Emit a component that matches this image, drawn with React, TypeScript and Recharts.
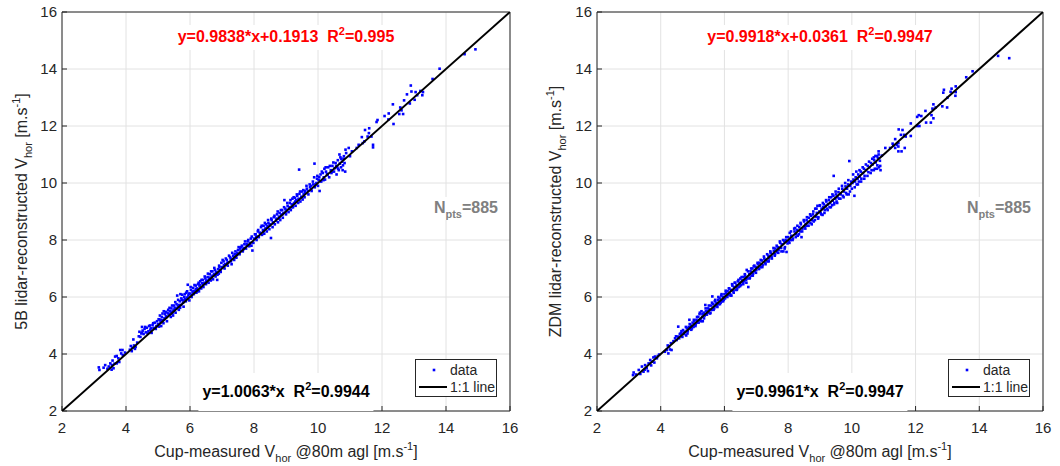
import React from "react";
import { ScatterChart, Scatter, XAxis, YAxis, CartesianGrid, Label } from "recharts";

const FONT = "'Liberation Sans', Arial, Helvetica, sans-serif";
const PANEL_W = 530;
const PANEL_H = 466;
const PLOT_TOP = 12;
const PLOT_BOTTOM = 411;

const axisTicks = [2, 4, 6, 8, 10, 12, 14, 16];
const oneToOne = [
  { x: 2, y: 2 },
  { x: 16, y: 16 },
];

// cup speed vs 5-beam lidar speed
const points5B: [number, number][] = [
  [3.15, 3.53], [3.17, 3.44], [3.3, 3.52], [3.35, 3.61], [3.42, 3.48], [3.46, 3.56], [3.51, 3.67], [3.55, 3.45],
  [3.56, 3.61], [3.58, 3.77], [3.61, 3.5], [3.64, 3.66], [3.66, 3.91], [3.71, 3.93], [3.71, 3.67], [3.76, 3.85],
  [3.79, 3.72], [3.82, 4.14], [3.85, 4.02], [3.89, 4.14], [3.9, 3.96], [3.97, 4.05],
  [4.12, 4.15], [4.15, 4.28], [4.18, 4.1], [4.2, 4.22], [4.23, 4.51], [4.25, 4.3], [4.28, 4.18], [4.3, 4.25],
  [4.35, 4.4], [4.4, 4.62], [4.42, 4.78], [4.48, 4.72], [4.5, 4.95], [4.52, 4.82], [4.55, 4.7], [4.58, 4.88],
  [4.62, 4.76], [4.65, 4.92], [4.7, 4.8], [4.72, 4.98], [4.76, 4.85], [4.8, 4.74], [4.83, 5.02], [4.86, 4.92],
  [4.9, 5.1], [4.93, 4.88], [4.97, 5.15], [5.0, 5.05], [5.03, 4.96], [5.05, 5.2], [5.08, 5.12], [5.1, 4.98],
  [5.12, 5.3], [5.15, 5.18], [5.18, 5.5], [5.2, 5.25], [5.22, 5.4], [5.25, 5.32], [5.28, 5.15], [5.3, 5.45],
  [5.32, 5.55], [5.35, 5.38], [5.38, 5.5], [5.4, 5.3], [5.42, 5.6], [5.45, 5.42], [5.48, 5.52], [5.5, 5.7],
  [5.52, 5.62], [5.55, 5.45], [5.58, 5.75], [5.6, 6.05], [5.62, 5.68], [5.65, 5.55], [5.68, 5.85], [5.7, 6.1],
  [5.72, 5.72], [5.75, 5.9], [5.78, 5.8], [5.8, 5.66], [5.82, 6.0], [5.85, 5.92], [5.88, 6.15], [5.9, 5.98],
  [5.93, 6.43], [5.95, 6.05], [5.98, 5.88], [6.0, 6.12], [6.03, 6.25], [6.05, 6.0], [6.08, 6.18], [6.1, 6.32],
  [6.12, 6.1], [6.15, 6.22], [6.18, 6.4], [6.2, 6.15], [6.22, 6.3], [6.25, 6.45], [6.28, 6.2], [6.3, 6.38],
  [6.32, 6.55], [6.35, 6.3], [6.38, 6.48], [6.4, 6.6], [6.42, 6.35], [6.45, 6.5], [6.48, 6.65], [6.5, 6.45],
  [6.52, 6.58], [6.55, 6.7], [6.58, 6.5], [6.6, 6.62], [6.62, 6.8], [6.65, 6.58], [6.68, 6.72], [6.7, 6.9],
  [6.72, 6.62], [6.75, 6.8], [6.78, 6.95], [6.8, 6.72], [6.82, 6.88], [6.85, 6.6], [6.88, 6.98], [6.9, 6.82],
  [6.92, 7.05], [6.95, 6.95], [6.98, 7.2], [7.0, 7.05], [7.05, 7.25], [7.08, 7.0], [7.1, 7.15], [7.15, 7.3],
  [7.18, 7.1], [7.2, 7.22], [7.25, 7.4], [7.28, 7.25], [7.3, 7.15], [7.35, 7.45], [7.38, 7.3], [7.4, 7.5],
  [7.45, 7.38], [7.48, 7.55], [7.5, 7.65], [7.55, 7.5], [7.58, 7.62], [7.6, 7.75], [7.65, 7.6], [7.68, 7.72],
  [7.7, 7.85], [7.75, 7.7], [7.78, 7.8], [7.8, 7.95], [7.85, 7.78], [7.88, 7.9], [7.9, 8.05], [7.92, 7.8],
  [7.95, 7.63], [7.98, 7.9], [8.0, 8.05], [8.05, 8.2], [8.08, 8.0], [8.1, 8.12], [8.12, 8.3], [8.15, 8.1],
  [8.2, 8.25], [8.22, 8.45], [8.25, 8.18], [8.28, 8.35], [8.3, 8.5], [8.32, 8.22], [8.35, 8.4], [8.38, 8.55],
  [8.4, 8.3], [8.42, 8.48], [8.45, 8.6], [8.48, 8.38], [8.5, 8.52], [8.53, 8.07], [8.55, 8.7], [8.58, 8.45],
  [8.6, 8.62], [8.62, 8.8], [8.65, 8.55], [8.7, 8.75], [8.72, 8.9], [8.75, 8.62], [8.78, 8.82], [8.8, 8.95],
  [8.82, 8.7], [8.85, 8.88], [8.88, 9.05], [8.9, 8.78], [8.92, 8.95], [8.95, 9.4], [8.98, 9.1], [9.0, 8.9],
  [9.02, 9.05], [9.05, 9.2], [9.08, 8.98], [9.1, 9.15], [9.12, 9.3], [9.15, 9.05], [9.18, 9.25], [9.2, 9.45],
  [9.22, 9.15], [9.25, 9.3], [9.28, 9.48], [9.3, 9.2], [9.32, 9.4], [9.35, 9.55], [9.38, 9.3], [9.4, 9.45],
  [9.41, 10.47], [9.42, 9.62], [9.45, 9.35], [9.48, 9.52], [9.5, 9.7], [9.52, 9.42], [9.55, 9.6], [9.58, 9.5],
  [9.6, 9.72], [9.65, 9.8], [9.7, 9.6], [9.75, 9.85], [9.78, 9.9], [9.8, 9.72], [9.85, 9.95], [9.88, 10.2],
  [9.89, 10.68], [9.9, 9.85], [9.95, 10.0], [9.98, 10.25], [10.0, 9.9], [10.02, 10.1], [10.05, 9.72], [10.08, 10.3],
  [10.1, 10.05], [10.15, 10.35], [10.18, 10.2], [10.2, 10.5], [10.22, 10.12], [10.25, 10.4], [10.3, 10.28], [10.32, 10.55],
  [10.35, 10.2], [10.4, 10.45], [10.42, 10.35], [10.45, 10.6], [10.5, 10.4], [10.52, 10.52], [10.55, 10.7], [10.58, 10.3],
  [10.6, 10.55], [10.62, 10.8], [10.65, 10.45], [10.68, 10.68], [10.7, 10.9], [10.72, 10.55], [10.75, 10.75], [10.78, 10.62],
  [10.8, 10.85], [10.85, 10.4], [10.88, 11.05], [10.86, 11.17], [10.96, 11.23], [11.0, 10.94], [10.81, 10.94], [10.67, 11.0],
  [11.06, 11.11], [11.21, 11.23], [11.27, 11.34], [11.37, 11.61], [11.4, 11.4], [11.45, 11.46], [11.47, 11.86], [11.55, 11.63],
  [11.59, 11.75], [11.6, 11.92], [11.67, 11.63], [11.72, 11.34], [11.72, 11.25], [11.83, 12.14], [11.86, 12.21], [12.08, 12.35],
  [12.2, 12.23], [12.21, 12.44], [12.34, 12.76], [12.36, 12.07], [12.54, 12.42], [12.57, 12.65], [12.61, 12.55], [12.66, 12.42],
  [12.69, 12.9], [12.78, 13.11], [12.87, 12.79], [12.9, 13.42], [12.92, 13.21], [13.02, 12.92], [13.05, 13.19], [13.1, 13.08],
  [13.2, 13.23], [13.26, 13.08], [13.28, 13.19], [13.58, 13.65], [13.8, 14.01], [14.58, 14.52], [14.92, 14.69],
  [4.45, 4.6], [4.5, 4.75], [4.6, 4.95], [4.68, 4.72], [4.75, 5.0], [4.78, 4.9], [4.85, 5.08], [4.95, 4.98],
  [5.02, 5.22], [5.06, 5.35], [5.1, 5.2], [5.14, 5.42], [5.17, 5.08], [5.24, 5.48], [5.27, 5.3], [5.33, 5.4],
  [5.36, 5.62], [5.41, 5.48], [5.44, 5.7], [5.47, 5.35], [5.51, 5.55], [5.54, 5.82], [5.57, 5.6], [5.63, 5.9],
  [5.66, 5.72], [5.69, 5.62], [5.73, 5.95], [5.76, 6.08], [5.79, 5.88], [5.84, 6.1], [5.87, 5.85], [5.91, 6.2],
  [5.96, 6.12], [6.02, 6.35], [6.06, 6.08], [6.11, 6.2], [6.14, 6.42], [6.19, 6.28], [6.23, 6.2], [6.27, 6.5],
  [6.31, 6.42], [6.36, 6.6], [6.41, 6.45], [6.46, 6.72], [6.51, 6.55], [6.56, 6.82], [6.61, 6.68], [6.66, 6.9],
  [6.71, 6.75], [6.76, 7.02], [6.81, 6.85], [6.86, 6.78], [6.91, 7.1], [6.96, 6.88], [7.02, 7.3], [7.06, 7.12],
  [7.12, 7.35], [7.16, 7.2], [7.22, 7.45], [7.27, 7.35], [7.32, 7.55], [7.37, 7.4], [7.42, 7.6], [7.47, 7.48],
  [7.52, 7.75], [7.57, 7.7], [7.62, 7.8], [7.67, 7.68], [7.72, 7.95], [7.77, 7.85], [7.82, 8.0], [7.87, 7.85],
  [7.93, 8.12], [8.03, 8.2], [8.07, 8.1], [8.13, 8.35], [8.18, 8.25], [8.24, 8.5], [8.29, 8.3], [8.34, 8.6],
  [8.39, 8.42], [8.44, 8.7], [8.49, 8.55], [8.54, 8.75], [8.59, 8.6], [8.64, 8.85], [8.69, 8.68], [8.74, 9.0],
  [8.79, 8.75], [8.84, 9.05], [8.89, 8.9], [8.94, 9.15], [8.99, 9.0], [9.04, 9.3], [9.09, 9.1], [9.14, 9.4],
  [9.19, 9.15], [9.24, 9.5], [9.29, 9.35], [9.34, 9.6], [9.39, 9.42], [9.44, 9.7], [9.49, 9.5], [9.54, 9.75],
  [9.59, 9.65], [9.64, 9.9], [9.69, 9.72], [9.74, 9.95], [9.79, 9.78], [9.84, 10.05], [9.92, 9.95], [9.97, 10.15],
  [10.04, 10.2], [10.12, 10.4], [10.17, 10.1], [10.24, 10.55], [10.28, 10.32], [10.37, 10.6], [10.44, 10.4], [10.48, 10.72],
  [10.57, 10.6], [10.63, 10.5], [10.73, 10.85], [10.77, 10.45], [10.83, 10.7],
];

// cup speed vs ZDM lidar speed
const pointsZDM: [number, number][] = [
  [3.13, 3.26], [3.15, 3.35], [3.22, 3.28], [3.31, 3.44], [3.36, 3.3], [3.41, 3.56], [3.46, 3.38], [3.5, 3.45],
  [3.51, 3.61], [3.56, 3.5], [3.6, 3.4], [3.62, 3.67], [3.67, 3.79], [3.7, 3.6], [3.72, 3.73], [3.77, 3.88],
  [3.8, 3.7], [3.82, 3.91], [3.88, 3.85], [3.91, 3.93], [3.95, 3.98],
  [4.13, 4.08], [4.19, 4.14], [4.22, 4.3], [4.24, 4.02], [4.26, 4.26], [4.29, 4.16], [4.32, 4.38], [4.34, 4.14],
  [4.4, 4.45], [4.45, 4.55], [4.5, 4.49], [4.55, 4.96], [4.55, 4.61], [4.6, 4.7], [4.63, 4.73], [4.68, 4.6],
  [4.7, 4.84], [4.72, 4.75], [4.76, 4.78], [4.8, 4.65], [4.82, 4.9], [4.85, 4.8], [4.88, 4.95], [4.9, 5.2],
  [4.92, 4.88], [4.95, 5.0], [4.98, 4.9], [5.0, 5.1], [5.03, 4.95], [5.05, 5.15], [5.08, 5.02], [5.1, 5.05],
  [5.12, 5.2], [5.15, 5.1], [5.18, 5.3], [5.2, 5.18], [5.22, 5.4], [5.25, 5.22], [5.28, 5.5], [5.3, 5.3],
  [5.32, 5.15], [5.35, 5.45], [5.38, 5.35], [5.4, 5.72], [5.42, 5.5], [5.45, 5.38], [5.48, 5.6], [5.5, 5.45],
  [5.52, 5.58], [5.55, 5.42], [5.58, 5.7], [5.6, 5.55], [5.62, 6.02], [5.65, 5.75], [5.68, 5.6], [5.7, 5.85],
  [5.72, 5.68], [5.75, 5.8], [5.78, 5.65], [5.8, 5.9], [5.82, 5.75], [5.85, 5.95], [5.88, 5.8], [5.9, 6.05],
  [5.92, 5.85], [5.95, 6.0], [5.98, 5.9], [6.0, 6.1], [6.02, 5.95], [6.05, 6.15], [6.08, 6.02], [6.1, 6.2],
  [6.12, 6.08], [6.15, 6.3], [6.18, 6.1], [6.2, 6.25], [6.22, 6.05], [6.25, 6.4], [6.28, 6.2], [6.3, 6.35],
  [6.32, 6.5], [6.35, 6.25], [6.38, 6.42], [6.4, 6.3], [6.42, 6.55], [6.45, 6.35], [6.48, 6.5], [6.5, 6.65],
  [6.52, 6.42], [6.55, 6.58], [6.58, 6.48], [6.6, 6.7], [6.62, 6.55], [6.65, 6.75], [6.68, 6.6], [6.7, 6.95],
  [6.72, 6.65], [6.75, 6.35], [6.78, 6.8], [6.8, 6.68], [6.82, 6.9], [6.85, 6.75], [6.88, 7.0], [6.9, 6.82],
  [6.92, 7.08], [6.95, 6.9], [6.98, 7.05], [7.0, 6.95], [7.05, 7.15], [7.08, 6.98], [7.1, 7.2], [7.15, 7.05],
  [7.18, 7.28], [7.2, 7.12], [7.25, 7.35], [7.28, 7.2], [7.3, 7.3], [7.35, 7.25], [7.38, 7.45], [7.4, 7.35],
  [7.45, 7.55], [7.48, 7.4], [7.5, 7.5], [7.55, 7.62], [7.58, 7.45], [7.6, 7.7], [7.65, 7.58], [7.68, 7.75],
  [7.7, 7.65], [7.75, 7.9], [7.78, 7.72], [7.8, 7.85], [7.85, 7.6], [7.88, 7.95], [7.9, 7.75], [7.92, 8.0],
  [7.95, 7.58], [7.98, 7.88], [8.0, 8.1], [8.02, 7.95], [8.05, 8.25], [8.08, 8.0], [8.1, 8.15], [8.15, 8.05],
  [8.2, 8.3], [8.22, 8.42], [8.25, 8.2], [8.28, 8.35], [8.3, 8.15], [8.35, 8.45], [8.38, 8.3], [8.4, 8.55],
  [8.42, 8.1], [8.45, 8.4], [8.5, 8.65], [8.52, 8.45], [8.55, 8.55], [8.58, 8.7], [8.6, 8.5], [8.62, 8.62],
  [8.65, 8.78], [8.7, 8.6], [8.72, 8.85], [8.75, 8.7], [8.78, 8.9], [8.8, 8.65], [8.85, 9.1], [8.88, 8.82],
  [8.9, 8.95], [8.92, 9.2], [8.95, 8.8], [8.98, 9.0], [9.0, 9.22], [9.02, 8.95], [9.05, 9.1], [9.08, 8.88],
  [9.1, 9.15], [9.12, 9.25], [9.15, 9.05], [9.18, 9.2], [9.2, 9.35], [9.22, 9.1], [9.25, 9.25], [9.28, 9.4],
  [9.3, 9.15], [9.32, 9.3], [9.35, 9.5], [9.38, 9.22], [9.4, 9.38], [9.42, 9.55], [9.43, 10.25], [9.45, 9.3],
  [9.48, 9.45], [9.5, 9.6], [9.52, 9.35], [9.55, 9.5], [9.58, 9.68], [9.6, 9.45], [9.65, 9.6], [9.7, 9.8],
  [9.72, 9.55], [9.75, 9.7], [9.8, 9.88], [9.82, 9.65], [9.85, 9.8], [9.88, 9.95], [9.9, 9.6], [9.92, 10.77],
  [9.95, 9.9], [9.98, 10.05], [10.0, 9.8], [10.02, 10.0], [10.05, 10.12], [10.08, 9.55], [10.1, 10.05], [10.12, 10.2],
  [10.15, 9.95], [10.18, 10.15], [10.2, 10.3], [10.22, 10.05], [10.25, 10.22], [10.28, 10.4], [10.3, 10.15], [10.35, 10.35],
  [10.38, 10.5], [10.4, 10.25], [10.45, 10.45], [10.5, 10.6], [10.52, 10.38], [10.55, 10.55], [10.6, 10.7], [10.62, 10.45],
  [10.65, 10.65], [10.7, 10.8], [10.72, 10.5], [10.75, 10.72], [10.8, 10.62], [10.82, 10.88], [10.85, 10.55], [10.88, 10.78],
  [10.9, 10.45], [10.69, 10.9], [10.79, 10.94], [10.84, 11.11], [10.94, 10.96], [11.05, 11.23], [11.2, 11.23], [11.28, 11.38],
  [11.3, 11.31], [11.36, 11.54], [11.36, 11.23], [11.41, 11.34], [11.46, 11.4], [11.46, 11.28], [11.46, 11.11], [11.47, 11.88],
  [11.54, 11.69], [11.56, 11.11], [11.59, 11.86], [11.64, 11.69], [11.66, 11.23], [11.69, 11.63], [11.85, 11.65], [11.85, 12.09],
  [12.05, 12.0], [12.05, 12.32], [12.1, 12.38], [12.12, 12.0], [12.18, 12.35], [12.31, 12.53], [12.33, 12.12], [12.48, 12.12],
  [12.5, 12.38], [12.53, 12.61], [12.56, 12.27], [12.56, 12.76], [12.63, 12.65], [12.84, 12.69], [12.87, 13.17], [12.89, 13.27],
  [12.99, 12.65], [13.0, 12.99], [13.1, 13.2], [13.13, 13.31], [13.25, 13.06], [13.26, 13.19], [13.26, 13.39], [13.59, 13.71],
  [13.79, 13.92], [14.59, 14.46], [14.94, 14.38],
  [4.48, 4.62], [4.58, 4.55], [4.65, 4.8], [4.74, 4.7], [4.79, 4.95], [4.84, 4.72], [4.91, 5.05], [4.96, 4.85],
  [5.04, 5.2], [5.09, 4.98], [5.14, 5.3], [5.19, 5.1], [5.23, 5.45], [5.27, 5.15], [5.31, 5.4], [5.36, 5.25],
  [5.41, 5.6], [5.46, 5.5], [5.51, 5.7], [5.56, 5.45], [5.61, 5.8], [5.66, 5.55], [5.71, 5.9], [5.76, 5.7],
  [5.81, 6.0], [5.86, 5.75], [5.91, 6.1], [5.96, 5.85], [6.04, 6.22], [6.09, 6.0], [6.14, 6.3], [6.19, 6.05],
  [6.24, 6.45], [6.29, 6.15], [6.34, 6.5], [6.39, 6.25], [6.44, 6.6], [6.49, 6.38], [6.54, 6.7], [6.59, 6.45],
  [6.64, 6.8], [6.69, 6.5], [6.74, 6.9], [6.79, 6.65], [6.84, 7.0], [6.89, 6.75], [6.94, 7.1], [6.99, 6.85],
  [7.04, 7.2], [7.09, 7.0], [7.14, 7.3], [7.19, 7.05], [7.24, 7.42], [7.29, 7.15], [7.34, 7.5], [7.39, 7.25],
  [7.44, 7.6], [7.49, 7.35], [7.54, 7.72], [7.59, 7.5], [7.64, 7.8], [7.69, 7.55], [7.74, 7.95], [7.79, 7.6],
  [7.84, 8.0], [7.89, 7.7], [7.94, 8.1], [8.04, 7.9], [8.09, 8.3], [8.14, 8.0], [8.19, 8.4], [8.24, 8.1],
  [8.29, 8.5], [8.34, 8.2], [8.39, 8.6], [8.44, 8.3], [8.49, 8.7], [8.54, 8.4], [8.59, 8.8], [8.64, 8.5],
  [8.69, 8.9], [8.74, 8.55], [8.79, 9.0], [8.84, 8.7], [8.89, 9.1], [8.94, 8.75], [8.99, 9.2], [9.04, 8.9],
  [9.09, 9.3], [9.14, 8.95], [9.19, 9.4], [9.24, 9.05], [9.29, 9.5], [9.34, 9.15], [9.39, 9.6], [9.44, 9.25],
  [9.49, 9.7], [9.54, 9.3], [9.59, 9.8], [9.64, 9.45], [9.69, 9.9], [9.74, 9.5], [9.79, 10.0], [9.84, 9.6],
  [9.89, 10.1], [9.94, 9.7], [10.04, 10.3], [10.09, 9.85], [10.14, 10.4], [10.19, 9.95], [10.24, 10.45], [10.29, 10.05],
  [10.34, 10.55], [10.39, 10.15], [10.44, 10.65], [10.49, 10.25], [10.54, 10.75], [10.59, 10.35], [10.64, 10.85], [10.69, 10.45],
  [10.74, 10.95], [10.79, 10.5], [10.84, 11.0], [10.89, 10.6],
];

const lidarNames = ["5B", "ZDM"];
const freeFits = ["y=0.9838*x+0.1913", "y=0.9918*x+0.0361"];
const freeR2 = ["0.995", "0.9947"];
const zeroFits = ["y=1.0063*x", "y=0.9961*x"];
const zeroR2 = ["0.9944", "0.9947"];
const nPoints = 885;

const tickStyle = { fill: "#262626", fontSize: 15, fontFamily: FONT };

const Dot = (props: any) => <rect x={props.cx - 1.3} y={props.cy - 1.3} width={2.6} height={2.6} fill="#0000ff" />;
const NoMarker = () => <g />;

type PanelProps = {
  points: [number, number][];
  idx: number;
  plotLeft: number;
  plotRight: number;
  yLabelX: number;
};

function Panel({ points, idx, plotLeft, plotRight, yLabelX }: PanelProps) {
  const data = points.map(([x, y]) => ({ x, y }));
  const cx = (plotLeft + plotRight) / 2;
  const cy = (PLOT_TOP + PLOT_BOTTOM) / 2;

  const xLabel = () => (
    <text x={cx} y={457} textAnchor="middle" fontSize={16} fill="#262626" fontFamily={FONT}>
      Cup-measured V<tspan fontSize={11} dy={5}>hor</tspan>
      <tspan dy={-5}> @80m agl [m.s</tspan>
      <tspan fontSize={11} dy={-7}>-1</tspan>
      <tspan dy={7}>]</tspan>
    </text>
  );

  const yLabel = () => (
    <text
      transform={`translate(${yLabelX},${cy}) rotate(-90)`}
      textAnchor="middle"
      fontSize={16}
      fill="#262626"
      fontFamily={FONT}
    >
      {lidarNames[idx]} lidar-reconstructed V<tspan fontSize={11} dy={5}>hor</tspan>
      <tspan dy={-5}> [m.s</tspan>
      <tspan fontSize={11} dy={-7}>-1</tspan>
      <tspan dy={7}>]</tspan>
    </text>
  );

  const bold = { fontFamily: FONT, fontWeight: 700, fontSize: 16, lineHeight: "20px", whiteSpace: "nowrap" as const };
  const sup = { fontSize: 11, position: "relative" as const, top: -7 };
  const sub = { fontSize: 11, position: "relative" as const, top: 5 };

  return (
    <div style={{ position: "relative", width: PANEL_W, height: PANEL_H }}>
      <ScatterChart
        width={PANEL_W}
        height={PANEL_H}
        margin={{ top: PLOT_TOP - 1, right: PANEL_W - plotRight - 1, bottom: 0, left: 0 }}
      >
        <CartesianGrid stroke="#e2e2e2" />
        <XAxis
          type="number"
          dataKey="x"
          domain={[2, 16]}
          ticks={axisTicks}
          interval={0}
          allowDataOverflow
          height={PANEL_H - PLOT_BOTTOM}
          tickSize={-5}
          tickMargin={16}
          stroke="#262626"
          tick={tickStyle}
        >
          <Label content={xLabel} />
        </XAxis>
        <XAxis
          xAxisId="top"
          orientation="top"
          type="number"
          domain={[2, 16]}
          ticks={axisTicks}
          interval={0}
          height={1}
          tickSize={-5}
          tick={false}
          stroke="#262626"
        />
        <YAxis
          type="number"
          dataKey="y"
          domain={[2, 16]}
          ticks={axisTicks}
          interval={0}
          allowDataOverflow
          width={plotLeft}
          tickSize={-5}
          tickMargin={10}
          stroke="#262626"
          tick={tickStyle}
        >
          <Label content={yLabel} />
        </YAxis>
        <YAxis
          yAxisId="right"
          orientation="right"
          type="number"
          domain={[2, 16]}
          ticks={axisTicks}
          interval={0}
          width={1}
          tickSize={-5}
          tick={false}
          stroke="#262626"
        />
        <Scatter name="data" data={data} fill="#0000ff" shape={Dot} isAnimationActive={false} />
        <Scatter
          name="1:1 line"
          data={oneToOne}
          line={{ stroke: "#000000", strokeWidth: 2 }}
          shape={NoMarker}
          isAnimationActive={false}
        />
      </ScatterChart>

      <div
        style={{
          ...bold,
          position: "absolute",
          left: cx,
          top: 25,
          transform: "translateX(-50%)",
          background: "#fff",
          padding: "2px 4px",
          color: "#ff0000",
        }}
      >
        {freeFits[idx]}&nbsp;&nbsp;R<span style={sup}>2</span>={freeR2[idx]}
      </div>

      <div
        style={{
          ...bold,
          position: "absolute",
          left: cx,
          top: 373,
          transform: "translateX(-50%)",
          background: "#fff",
          padding: "9px 4px 8px",
          color: "#000",
        }}
      >
        {zeroFits[idx]}&nbsp;&nbsp;R<span style={sup}>2</span>={zeroR2[idx]}
      </div>

      <div
        style={{
          ...bold,
          position: "absolute",
          right: PANEL_W - plotRight + 12,
          top: 197,
          background: "#fff",
          padding: "1px 0",
          color: "#808080",
        }}
      >
        N<span style={sub}>pts</span>={nPoints}
      </div>

      <div
        style={{
          position: "absolute",
          left: plotRight - 13 - 82,
          top: 359,
          width: 80,
          height: 36,
          border: "1px solid #262626",
          background: "#fff",
        }}
      >
        <svg width={80} height={36} style={{ position: "absolute", left: 0, top: 0 }}>
          <rect x={16.7} y={8.7} width={2.6} height={2.6} fill="#0000ff" />
          <line x1={3} x2={31} y1={27} y2={27} stroke="#000" strokeWidth={2} />
          <text x={34} y={15} fontSize={14} fontFamily={FONT} fill="#262626">
            data
          </text>
          <text x={34} y={32} fontSize={14} fontFamily={FONT} fill="#262626">
            1:1 line
          </text>
        </svg>
      </div>
    </div>
  );
}

export default function App() {
  return (
    <div
      style={{
        position: "absolute",
        left: 0,
        top: 0,
        width: 1060,
        height: 466,
        background: "#fff",
        display: "flex",
      }}
    >
      <Panel points={points5B} idx={0} plotLeft={62} plotRight={510} yLabelX={27} />
      <Panel points={pointsZDM} idx={1} plotLeft={67} plotRight={513} yLabelX={31} />
    </div>
  );
}
